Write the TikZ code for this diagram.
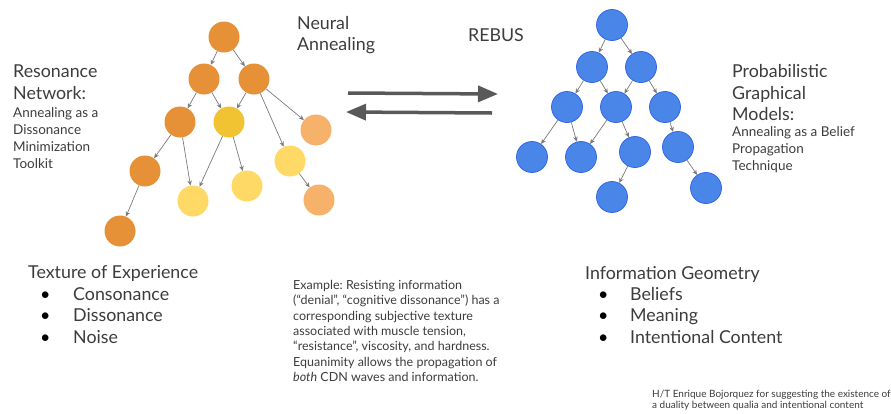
\documentclass[tikz,border=0pt]{standalone}
\usepackage{fontspec}
\setmainfont{Lato}
\usetikzlibrary{arrows.meta}
\frenchspacing

\definecolor{txtgray}{HTML}{3C3C3C}
\definecolor{edgegray}{HTML}{7A7A7A}
\definecolor{arrowgray}{HTML}{595959}
\definecolor{darkorange}{HTML}{E69138}
\definecolor{goldyellow}{HTML}{F1C232}
\definecolor{lightorange}{HTML}{F6B26B}
\definecolor{paleyellow}{HTML}{FFD966}
\definecolor{nodeblue}{HTML}{4A86E8}
\definecolor{rimblue}{HTML}{3366E6}

\begin{document}
\begin{tikzpicture}[x=1pt, y=-1pt,
    main/.style = {circle, minimum size=31pt, inner sep=0pt},
    hot/.style = {main, fill=darkorange},
    gold/.style = {main, fill=goldyellow},
    warm/.style = {main, fill=lightorange},
    pale/.style = {main, fill=paleyellow},
    cool/.style = {main, fill=nodeblue, draw=rimblue, line width=0.8pt},
    edge/.style = {draw=edgegray, line width=0.7pt, -{Stealth[length=5pt, width=4.5pt]}},
    swap/.style = {draw=arrowgray, line width=3.5pt, -{Triangle[length=20pt, width=16pt]}},
    head/.style = {text=txtgray, font=\fontsize{17.8}{21.5}\selectfont, align=left, inner sep=0pt},
    sub/.style = {text=txtgray, font=\fontsize{13.5}{17}\selectfont, align=left, inner sep=0pt},
    note/.style = {text=txtgray, font=\fontsize{12.5}{15.3}\selectfont, align=left, inner sep=0pt},
    tiny/.style = {text=txtgray, font=\fontsize{10}{11}\selectfont, align=left, inner sep=0pt}]
    \useasboundingbox (0,0) rectangle (891,413);

    \begin{scope}
        \node[hot]  (o1)  at (224, 37)  {};
        \node[hot]  (o2)  at (204, 79)  {};
        \node[hot]  (o3)  at (254, 79)  {};
        \node[hot]  (o4)  at (180, 122) {};
        \node[gold] (o5)  at (229, 122) {};
        \node[warm] (o6)  at (316, 130) {};
        \node[hot]  (o7)  at (145, 171) {};
        \node[pale] (o8)  at (290, 161) {};
        \node[pale] (o9)  at (193, 201) {};
        \node[pale] (o10) at (247, 186) {};
        \node[warm] (o11) at (319, 200) {};
        \node[hot]  (o12) at (120, 231) {};

        \draw[edge] (o1) -- (o2);
        \draw[edge] (o1) -- (o3);
        \draw[edge] (o2) -- (o4);
        \draw[edge] (o2) -- (o5);
        \draw[edge] (o3) -- (o5);
        \draw[edge] (o3) -- (o6);
        \draw[edge] (o3) -- (o8);
        \draw[edge] (o4) -- (o7);
        \draw[edge] (o4) -- (o9);
        \draw[edge] (o5) -- (o9);
        \draw[edge] (o5) -- (o10);
        \draw[edge] (o7) -- (o12);
        \draw[edge] (o8) -- (o11);
    \end{scope}

    \begin{scope}
        \node[cool] (b1)  at (612, 25)  {};
        \node[cool] (b2)  at (592, 67)  {};
        \node[cool] (b3)  at (641, 67)  {};
        \node[cool] (b4)  at (567, 107) {};
        \node[cool] (b5)  at (616, 107) {};
        \node[cool] (b6)  at (665, 107) {};
        \node[cool] (b7)  at (532, 157) {};
        \node[cool] (b8)  at (581, 157) {};
        \node[cool] (b9)  at (635, 152) {};
        \node[cool] (b10) at (678, 147) {};
        \node[cool] (b11) at (612, 197) {};
        \node[cool] (b12) at (706, 188) {};

        \draw[edge] (b1) -- (b2);
        \draw[edge] (b1) -- (b3);
        \draw[edge] (b2) -- (b4);
        \draw[edge] (b2) -- (b5);
        \draw[edge] (b3) -- (b5);
        \draw[edge] (b3) -- (b6);
        \draw[edge] (b4) -- (b7);
        \draw[edge] (b4) -- (b8);
        \draw[edge] (b5) -- (b8);
        \draw[edge] (b5) -- (b9);
        \draw[edge] (b6) -- (b10);
        \draw[edge] (b9) -- (b11);
        \draw[edge] (b10) -- (b12);
    \end{scope}

    \coordinate (fwdstart) at (348, 93);
    \coordinate (fwdend)   at (498, 94);
    \coordinate (backstart) at (492, 113);
    \coordinate (backend)   at (346, 112);
    \draw[swap] (fwdstart) -- (fwdend);
    \draw[swap] (backstart) -- (backend);

    \node[head, anchor=west] (neural) at (297, 35) {Neural\\Annealing};
    \node[head] (rebus) at (496, 35) {REBUS};

    \node[head, anchor=west] (resonance) at (13, 82) {Resonance\\Network:};
    \node[sub, anchor=west] (resonancesub) at (13, 138) {Annealing as a\\Dissonance\\Minimization\\Toolkit};

    \node[head, anchor=west] (pgm) at (732, 93) {Probabilistic\\Graphical\\Models:};
    \node[sub, anchor=west] (pgmsub) at (732, 150) {Annealing as a Belief\\Propagation\\Technique};

    \node[head, anchor=base west] (texture) at (28, 278) {Texture of Experience};
    \node[head, anchor=base west] (t1) at (40, 300) {\makebox[33pt][l]{\textcolor{black}{•}}Consonance};
    \node[head, anchor=base west] (t2) at (40, 321) {\makebox[33pt][l]{\textcolor{black}{•}}Dissonance};
    \node[head, anchor=base west] (t3) at (40, 343) {\makebox[33pt][l]{\textcolor{black}{•}}Noise};

    \node[head, anchor=base west] (geometry) at (585, 279) {Information Geometry};
    \node[head, anchor=base west] (g1) at (598, 300) {\makebox[32pt][l]{\textcolor{black}{•}}Beliefs};
    \node[head, anchor=base west] (g2) at (598, 321) {\makebox[32pt][l]{\textcolor{black}{•}}Meaning};
    \node[head, anchor=base west] (g3) at (598, 343) {\makebox[32pt][l]{\textcolor{black}{•}}Intentional Content};

    \node[note, anchor=west] (example) at (293, 331) {Example: Resisting information\\(“denial”, “cognitive dissonance”) has a\\corresponding subjective texture\\associated with muscle tension,\\“resistance”, viscosity, and hardness.\\Equanimity allows the propagation of\\\textit{both} CDN waves and information.};

    \node[tiny, anchor=west] (credit) at (652, 400) {H/T Enrique Bojorquez for suggesting the existence of\\a duality between qualia and intentional content};
\end{tikzpicture}
\end{document}
